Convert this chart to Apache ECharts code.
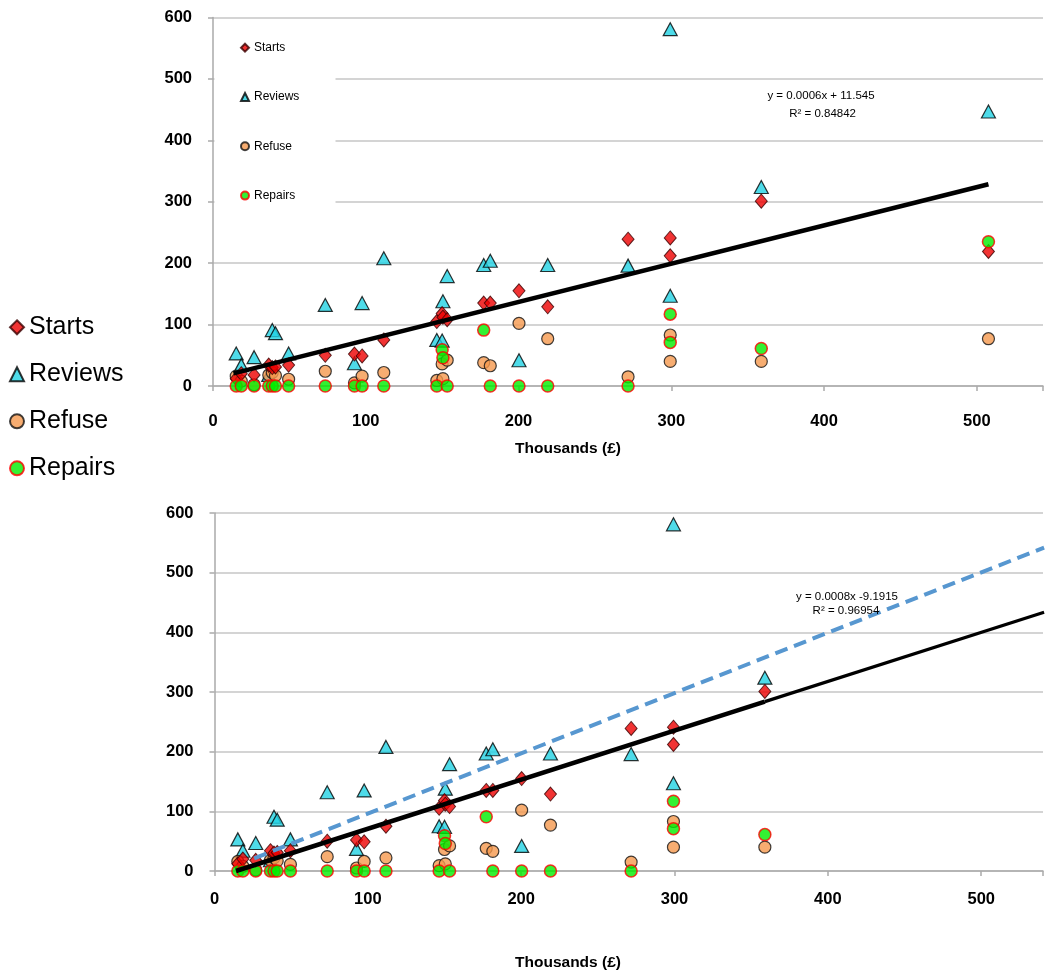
<!DOCTYPE html>
<html><head><meta charset="utf-8">
<script src="https://cdn.jsdelivr.net/npm/echarts@6/dist/echarts.min.js"></script>
<style>html,body{margin:0;padding:0;background:#fff}#c{width:1046px;height:972px}</style>
</head><body><div id="c"></div>
<script>
// ---- data (x in thousands of £) ----
const thousands = [15.2, 18.5, 26.9, 36.5, 38.8, 40.9, 49.5, 73.5, 92.6, 97.6, 111.8, 146.5, 150.0, 150.5, 153.3, 177.2, 181.5, 200.3, 219.1, 271.7, 299.3, 299.3, 358.9, 507.6];
const starts    = [12, 20, 18, 34, 30, 31, 34, 50, 52, 49, 75, 105, 118, 112, 108, 135, 135, 155, 129, 239, 241, 212, 301, 219];
const reviews   = [53, 34, 47, 18, 91, 86, 53, 132, 37, 135, 208, 75, 74, 138, 179, 197, 204, 42, 197, 196, 581, 147, 324, 447];
const refuse    = [16, 8, 2, 18, 22, 17, 11, 24, 5, 16, 22, 9, 36, 12, 42, 38, 33, 102, 77, 15, 83, 40, 40, 77];
const repairs   = [0, 0, 0, 0, 0, 0, 0, 0, 0, 0, 0, 0, 59, 46, 0, 91, 0, 0, 0, 0, 117, 71, 61, 235];
const yTicks = [0, 100, 200, 300, 400, 500, 600];
const xTicks = [0, 100, 200, 300, 400, 500];
// trend lines (value per thousand)
const topTrend  = {slope: 0.623, intercept: 12.3, from: 13.4, to: 507.6};
const botTrend  = {slope: 0.823, intercept: -11.5, from: 14, mid: 358.9, to: 541};
const blueTrend = {slope: 1.0107, intercept: -4.9, from: 25.9, to: 541};
const eqTop = ['y = 0.0006x + 11.545', 'R² = 0.84842'];
const eqBot = ['y = 0.0008x -9.1915', 'R² = 0.96954'];
const xName = 'Thousands (£)';

const FONT = "'Liberation Sans', Arial, sans-serif";
const seriesDefs = {
  Starts:  {values: starts,  symbol: 'diamond',  symbolSize: [12, 14], itemStyle: {color: '#ee0000', borderColor: '#3a0000', borderWidth: 1}},
  Reviews: {values: reviews, symbol: 'triangle', symbolSize: [14, 13], itemStyle: {color: '#22d2e4', borderColor: '#000', borderWidth: 1.2}},
  Refuse:  {values: refuse,  symbol: 'circle',   symbolSize: 12, itemStyle: {color: '#f5994e', borderColor: '#111', borderWidth: 1.2}},
  Repairs: {values: repairs, symbol: 'circle',   symbolSize: 12, itemStyle: {color: '#00ee00', borderColor: '#ff0000', borderWidth: 1.5}}
};
const drawOrder = ['Reviews', 'Refuse', 'Starts', 'Repairs'];
const legendOrder = ['Starts', 'Reviews', 'Refuse', 'Repairs'];

function scatterFor(gridIdx, nRows) {
  return drawOrder.map(name => {
    const d = seriesDefs[name];
    return {
      name, type: 'scatter', xAxisIndex: gridIdx, yAxisIndex: gridIdx,
      symbol: d.symbol, symbolSize: d.symbolSize, itemStyle: d.itemStyle,
      data: thousands.slice(0, nRows).map((x, i) => [x, d.values[i]]),
      z: 2, silent: true
    };
  });
}
function lineFrom(t, a, b) { return [[a, t.slope * a + t.intercept], [b, t.slope * b + t.intercept]]; }
function trend(gridIdx, data, width, color, type) {
  return {type: 'line', xAxisIndex: gridIdx, yAxisIndex: gridIdx, data, showSymbol: false, symbol: 'none',
    lineStyle: {color, width, type}, z: 5, silent: true};
}

const grids = [
  {left: 213, top: 17.5, right: 0, height: 368.5},
  {left: 214.5, top: 513, right: 0, height: 358}
];
const xMax = [(1046 - 213) / 1.5332, (1046 - 214.5) / 1.539];
const labelMargins = [27, 20];

function xAxis(i) {
  return {gridIndex: i, type: 'value', min: 0, max: xMax[i], interval: 100,
    splitLine: {show: false},
    axisLine: {show: true, lineStyle: {color: '#aaaaaa', width: 1.5}},
    axisTick: {show: true, inside: false, length: 5, lineStyle: {color: '#aaaaaa', width: 1.5}},
    axisLabel: {margin: labelMargins[i], color: '#000', fontFamily: FONT, fontWeight: 'bold', fontSize: 16.5,
      formatter: v => xTicks.includes(Math.round(v)) && Math.abs(v - Math.round(v)) < 1e-6 ? String(Math.round(v)) : ''}};
}
function yAxis(i) {
  return {gridIndex: i, type: 'value', min: 0, max: 600, interval: 100,
    splitLine: {show: true, lineStyle: {color: '#c6c6c6', width: 1.5}},
    axisLine: {show: true, lineStyle: {color: '#aaaaaa', width: 1.5}},
    axisTick: {show: true, inside: false, length: 5, lineStyle: {color: '#aaaaaa', width: 1.5}},
    axisLabel: {margin: 21, color: '#000', fontFamily: FONT, fontWeight: 'bold', fontSize: 16.5,
      formatter: v => yTicks.includes(v) ? String(v) : ''}};
}

const series = [
  ...scatterFor(0, thousands.length),
  trend(0, lineFrom(topTrend, topTrend.from, topTrend.to), 4.5, '#000', 'solid'),
  ...scatterFor(1, thousands.length - 1),
  trend(1, lineFrom(botTrend, botTrend.from, botTrend.mid), 4.5, '#000', 'solid'),
  trend(1, lineFrom(botTrend, botTrend.mid, botTrend.to), 3.2, '#000', 'solid'),
  trend(1, lineFrom(blueTrend, blueTrend.from, blueTrend.to), 4, '#5797d0', [13, 7])
];

function txt(x, y, text, size, weight) {
  return {type: 'text', x, y, z: 10, silent: true,
    style: {text, fill: '#000', font: `${weight || 'normal'} ${size}px ${FONT}`, align: 'center', verticalAlign: 'middle'}};
}

const option = {
  animation: false,
  backgroundColor: '#fff',
  grid: grids,
  xAxis: [xAxis(0), xAxis(1)],
  yAxis: [yAxis(0), yAxis(1)],
  legend: [
    {orient: 'vertical', left: 9, top: 313.8, padding: 0, itemGap: 20, itemWidth: 14, itemHeight: 14,
      data: legendOrder, selectedMode: false,
      textStyle: {fontFamily: FONT, fontSize: 25, color: '#000', lineHeight: 27}},
    {orient: 'vertical', left: 240, top: 40.7, padding: 0, itemGap: 35.3, itemWidth: 8, itemHeight: 8,
      data: legendOrder, selectedMode: false,
      textStyle: {fontFamily: FONT, fontSize: 12, color: '#000', lineHeight: 14}}
  ],
  graphic: [
    {type: 'rect', shape: {x: 214.5, y: 22, width: 121, height: 192}, style: {fill: '#fff'}, z: 1, silent: true},
    txt(821, 96, eqTop[0], 11.5), txt(822.6, 114, eqTop[1], 11.5),
    txt(847, 596.7, eqBot[0], 11.5), txt(846, 611, eqBot[1], 11.5),
    txt(568, 449, xName, 15.5, 'bold'), txt(568, 963, xName, 15.5, 'bold')
  ],
  series
};
const chart = echarts.init(document.getElementById('c'), null, {renderer: 'canvas'});
chart.setOption(option);
</script>
</body></html>
